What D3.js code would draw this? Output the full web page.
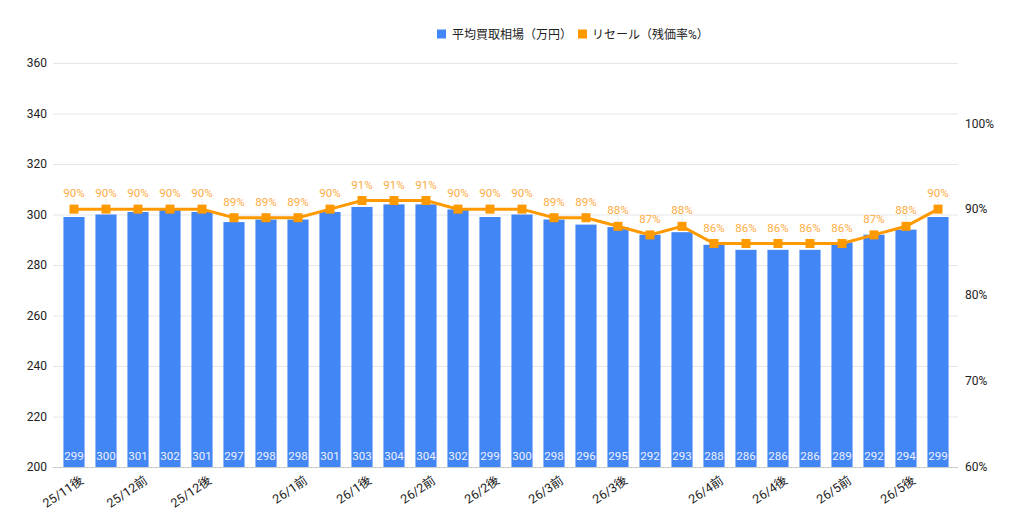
<!DOCTYPE html>
<html>
<head>
<meta charset="utf-8">
<script src="https://cdn.jsdelivr.net/npm/d3@7"></script>
<style>
  body { margin: 0; background: #fff; }
  text { font-family: Roboto, "Noto Sans CJK JP", sans-serif; }
</style>
</head>
<body>
<div id="vis"></div>
<script>
// 28 half-month points; only some tick labels are shown on the chart
const tickLabels = [
  "25/11後", "", "25/12前", "", "25/12後", "", "", "26/1前", "", "26/1後",
  "", "26/2前", "", "26/2後", "", "26/3前", "", "26/3後", "", "",
  "26/4前", "", "26/4後", "", "26/5前", "", "26/5後", ""
];
const avgPrice = [
  299, 300, 301, 302, 301, 297, 298, 298, 301, 303,
  304, 304, 302, 299, 300, 298, 296, 295, 292, 293,
  288, 286, 286, 286, 289, 292, 294, 299
];
const resale = [
  90, 90, 90, 90, 90, 89, 89, 89, 90, 91,
  91, 91, 90, 90, 90, 89, 89, 88, 87, 88,
  86, 86, 86, 86, 86, 87, 88, 90
];
const leftTicks = [200, 220, 240, 260, 280, 300, 320, 340, 360];
const rightTicks = [60, 70, 80, 90, 100];

const W = 1024, H = 528;
const plot = { left: 58, right: 954, top: 63, bottom: 467 };

const svg = d3.select("#vis").append("svg")
  .attr("width", W)
  .attr("height", H);

const idx = d3.range(avgPrice.length);

const x = d3.scaleBand()
  .domain(idx)
  .range([plot.left, plot.right])
  .paddingInner(0.34)
  .paddingOuter(0.17);

const y = d3.scaleLinear().domain([200, 360]).range([plot.bottom, plot.top]);
const y2 = d3.scaleLinear().domain([60, 107]).range([plot.bottom, plot.top]);

// gridlines
svg.append("g")
  .attr("transform", `translate(53,0)`)
  .call(d3.axisLeft(y).tickValues(leftTicks).tickSize(-905).tickFormat(""))
  .call(g => g.select(".domain").remove())
  .selectAll("line")
  .attr("stroke", d => d === 200 ? "#ccc" : "#e6e6e6");

// left labels
svg.append("g")
  .attr("transform", `translate(47,0)`)
  .call(d3.axisLeft(y).tickValues(leftTicks).tickSize(0).tickPadding(0))
  .call(g => g.select(".domain").remove())
  .selectAll("text")
  .attr("font-size", 12)
  .attr("fill", "#222");

// right labels
svg.append("g")
  .attr("transform", `translate(965,0)`)
  .call(d3.axisRight(y2).tickValues(rightTicks).tickSize(0).tickPadding(0)
    .tickFormat(d => d + "%"))
  .call(g => g.select(".domain").remove())
  .selectAll("text")
  .attr("font-size", 12)
  .attr("fill", "#222");

// bars
svg.selectAll(".bar")
  .data(idx)
  .enter()
  .append("rect")
  .attr("class", "bar")
  .attr("x", i => x(i))
  .attr("width", x.bandwidth())
  .attr("y", i => y(avgPrice[i]))
  .attr("height", i => y(200) - y(avgPrice[i]))
  .attr("fill", "#4285f4");

svg.selectAll(".barlabel")
  .data(idx)
  .enter()
  .append("text")
  .attr("class", "barlabel")
  .attr("x", i => x(i) + x.bandwidth() / 2)
  .attr("y", plot.bottom - 7)
  .attr("text-anchor", "middle")
  .attr("font-size", 11.5)
  .attr("fill", "#eef3ff")
  .text(i => avgPrice[i]);

// line
const cx = i => x(i) + x.bandwidth() / 2;

svg.selectAll(".leader")
  .data(idx)
  .enter()
  .append("line")
  .attr("x1", cx)
  .attr("x2", cx)
  .attr("y1", i => y2(resale[i]) - 11)
  .attr("y2", i => y2(resale[i]))
  .attr("stroke", "#eee");

svg.append("path")
  .datum(idx)
  .attr("fill", "none")
  .attr("stroke", "#ff9900")
  .attr("stroke-width", 3)
  .attr("d", d3.line().x(cx).y(i => y2(resale[i])));

svg.selectAll(".marker")
  .data(idx)
  .enter()
  .append("rect")
  .attr("x", i => cx(i) - 4.5)
  .attr("y", i => y2(resale[i]) - 4.5)
  .attr("width", 9)
  .attr("height", 9)
  .attr("fill", "#ff9900");

svg.selectAll(".linelabel")
  .data(idx)
  .enter()
  .append("text")
  .attr("x", cx)
  .attr("y", i => y2(resale[i]) - 12)
  .attr("text-anchor", "middle")
  .attr("font-size", 11.5)
  .attr("fill", "#ffab40")
  .text(i => resale[i] + "%");

// x labels
svg.selectAll(".xlabel")
  .data(idx.filter(i => tickLabels[i] !== ""))
  .enter()
  .append("text")
  .attr("transform", i => `translate(${cx(i) + 8},${plot.bottom + 12}) rotate(-34)`)
  .attr("text-anchor", "end")
  .attr("dy", "0.35em")
  .attr("font-size", 12.5)
  .attr("fill", "#222")
  .text(i => tickLabels[i]);

// legend
const legend = svg.append("g").attr("transform", "translate(437,34)");
legend.append("rect").attr("x", 0).attr("y", -4.5).attr("width", 9).attr("height", 9).attr("fill", "#4285f4");
legend.append("text").attr("x", 15).attr("y", 4.5).attr("font-size", 12).attr("fill", "#222")
  .text("平均買取相場（万円）");
legend.append("rect").attr("x", 141).attr("y", -4.5).attr("width", 9).attr("height", 9).attr("fill", "#ff9900");
legend.append("text").attr("x", 155).attr("y", 4.5).attr("font-size", 12).attr("fill", "#222")
  .text("リセール（残価率%）");
</script>
</body>
</html>
